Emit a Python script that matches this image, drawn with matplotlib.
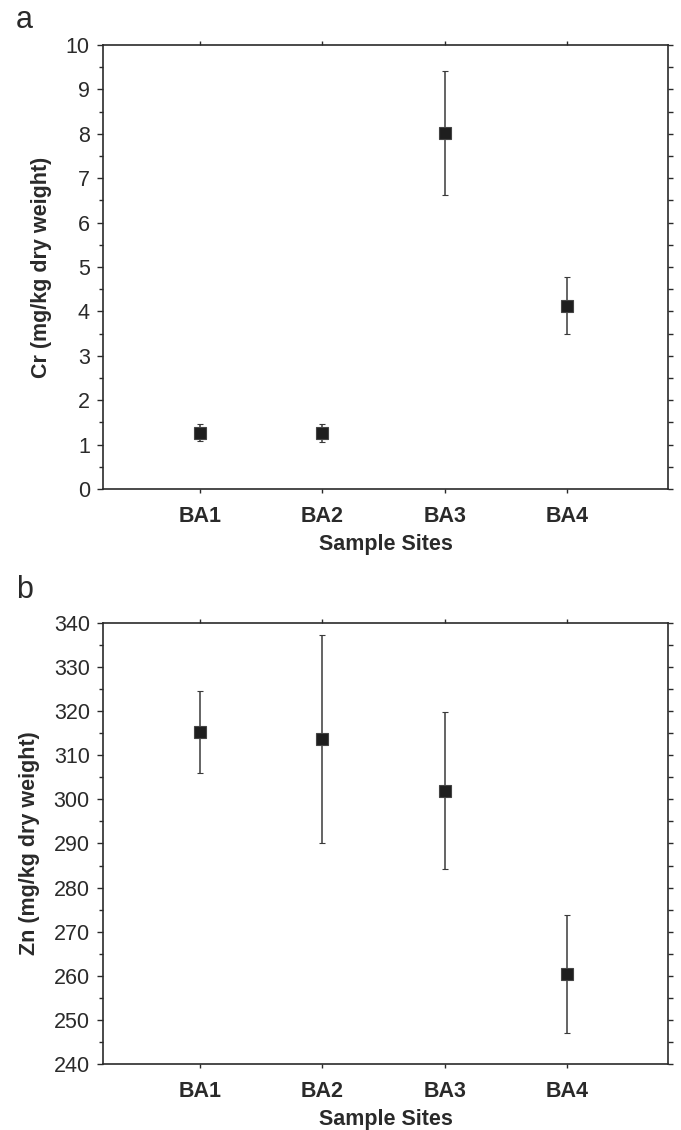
import matplotlib
matplotlib.use("Agg")
import matplotlib.pyplot as plt
import numpy as np

plt.rcParams['font.family'] = ['Liberation Sans', 'DejaVu Sans']

sites = ["BA1", "BA2", "BA3", "BA4"]

cr_mean = [1.27, 1.26, 8.02, 4.13]
cr_err = [0.20, 0.20, 1.40, 0.64]

zn_mean = [315.3, 313.7, 302.0, 260.4]
zn_err = [9.3, 23.5, 17.7, 13.4]

INK = "#2a2a2a"

fig = plt.figure(figsize=(6.81, 11.30), dpi=100)
ax_a = fig.add_axes([0.1512, 0.5673, 0.8296, 0.3929])
ax_b = fig.add_axes([0.1512, 0.0584, 0.8296, 0.3903])


def draw_panel(ax, means, errs, ylim, major, half, ylabel, letter, letter_y):
    x = np.arange(len(sites))
    ax.errorbar(x, means, yerr=errs, fmt="s", color=INK, ecolor="#3a3a3a",
                elinewidth=1.1, capsize=2.5, capthick=1.1,
                markersize=8, markerfacecolor="#1e1e1e",
                markeredgecolor="#444444", markeredgewidth=0.8, zorder=3)
    ax.set_xlim(-0.79, 3.82)
    ax.set_ylim(*ylim)
    ax.set_xticks(x)
    ax.set_xticklabels(sites, fontsize=15.5, fontweight="bold", color=INK)
    ax.set_yticks(np.arange(ylim[0], ylim[1] + major / 2, major))
    ax.set_yticks(np.arange(ylim[0] + half, ylim[1], major), minor=True)
    ax.tick_params(axis="y", which="major", direction="out", length=4.5,
                   width=1, color=INK, labelsize=15.5, labelcolor=INK, pad=5)
    ax.tick_params(axis="y", which="minor", direction="out", length=3,
                   width=1, color=INK)
    ax.tick_params(axis="x", which="major", direction="out", length=3,
                   width=1, color=INK, pad=9.5)
    for sp in ax.spines.values():
        sp.set_linewidth(1.2)
        sp.set_color(INK)
    ax.set_xlabel("Sample Sites", fontsize=15.5, fontweight="bold", color=INK,
                  labelpad=5)
    ax.set_ylabel(ylabel, fontsize=15.5, fontweight="bold", color=INK,
                  labelpad=10)

    # unlabelled ticks on the right and top edges
    right = ax.secondary_yaxis("right")
    right.set_yticks(np.arange(ylim[0], ylim[1] + half / 2, half))
    right.set_yticklabels([])
    right.tick_params(direction="out", length=3.5, width=1, color=INK)
    right.spines["right"].set_visible(False)
    top = ax.secondary_xaxis("top")
    top.set_xticks(x)
    top.set_xticklabels([])
    top.tick_params(direction="out", length=3, width=1, color=INK)
    top.spines["top"].set_visible(False)

    fig.text(0.036, letter_y, letter, fontsize=22, color=INK,
             ha="center", va="center")


draw_panel(ax_a, cr_mean, cr_err, (0, 10), 1, 0.5,
           "Cr (mg/kg dry weight)", "a", 1 - 20 / 1130)
draw_panel(ax_b, zn_mean, zn_err, (240, 340), 10, 5,
           "Zn (mg/kg dry weight)", "b", 1 - 590 / 1130)

fig.savefig("out.png", dpi=100)
